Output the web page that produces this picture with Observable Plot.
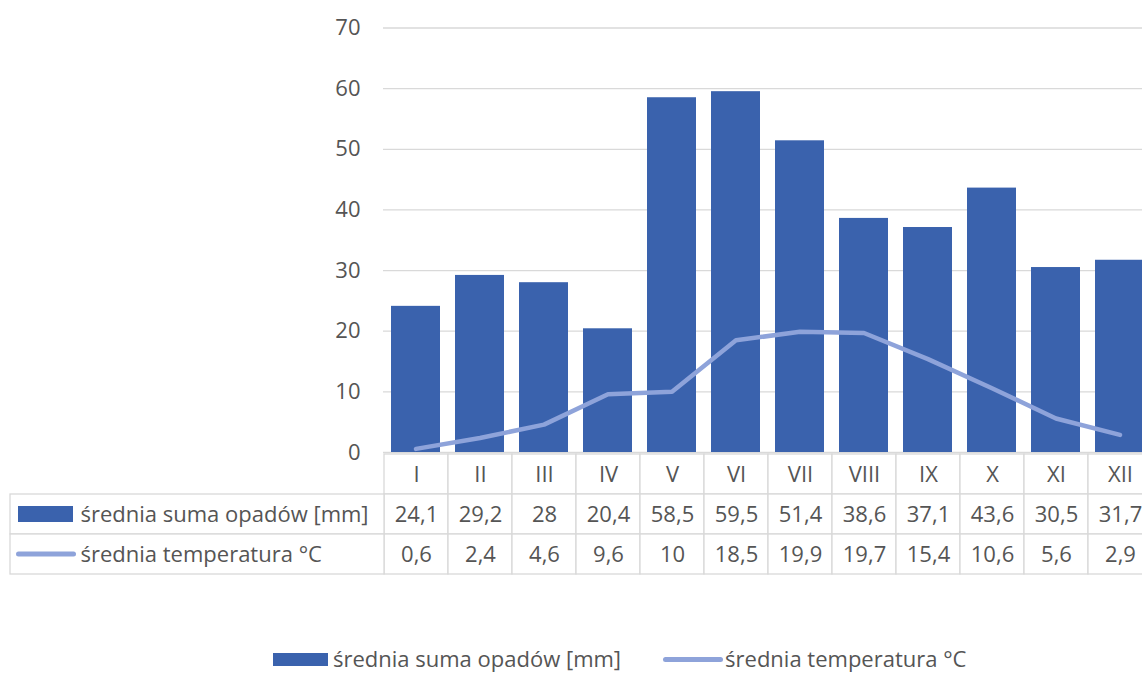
<!DOCTYPE html>
<html>
<head>
<meta charset="utf-8">
<script src="https://cdn.jsdelivr.net/npm/d3@7"></script>
<script src="https://cdn.jsdelivr.net/npm/@observablehq/plot@0.6"></script>
<style>
  html, body { margin: 0; padding: 0; background: #fff; overflow: hidden; }
  #wrap { position: relative; width: 1142px; height: 673px; overflow: hidden; font-family: "Open Sans", sans-serif; color: #555555; }
  .abs { position: absolute; }
  .legend { position: absolute; top: 643px; left: 273px; height: 30px; display: flex; align-items: center; font-size: 22px; line-height: 30px; color: #555555; white-space: nowrap; }
  .legend .txt { display: inline-block; height: 30px; line-height: 30px; }
  .legend .sw-bar { display: inline-block; width: 55px; height: 13px; margin-right: 5px; margin-top: 3px; }
  .legend .sw-line { display: inline-block; width: 60px; height: 5px; border-radius: 2.5px; margin-left: 42px; margin-right: 2px; margin-top: 3px; }
</style>
</head>
<body>
<div id="wrap"></div>
<script>
// ---- data ----
const months = ["I", "II", "III", "IV", "V", "VI", "VII", "VIII", "IX", "X", "XI", "XII"];
const precipitation = [24.1, 29.2, 28, 20.4, 58.5, 59.5, 51.4, 38.6, 37.1, 43.6, 30.5, 31.7];
const temperature = [0.6, 2.4, 4.6, 9.6, 10, 18.5, 19.9, 19.7, 15.4, 10.6, 5.6, 2.9];
const yTicks = [0, 10, 20, 30, 40, 50, 60, 70];
const seriesNames = ["średnia suma opadów [mm]", "średnia temperatura °C"];

// ---- styles ----
const barColor = "#3A62AD";
const lineColor = "#8EA3DA";
const gridColor = "#D9D9D9";
const textColor = "#555555";
const font = "Open Sans, sans-serif";
const fs = 22;

const fmt = v => String(v).replace(".", ",");
const data = months.map((m, i) => ({month: m, precip: precipitation[i], temp: temperature[i]}));

const wrap = document.getElementById("wrap");

// ---- chart ----
const chart = Plot.plot({
  width: 1153,
  height: 455,
  marginLeft: 383,
  marginRight: 0,
  marginTop: 27.5,
  marginBottom: 3,
  style: {fontFamily: font, fontSize: fs + "px", color: textColor, background: "transparent", maxWidth: "none", overflow: "visible"},
  x: {domain: months, paddingInner: 0.23, paddingOuter: 0.115, axis: null},
  y: {domain: [0, 70], axis: null},
  marks: [
    Plot.gridY(yTicks, {stroke: gridColor, strokeOpacity: 1, strokeWidth: 1.3}),
    Plot.axisY(yTicks, {tickSize: 0, tickPadding: 23, fill: textColor, fontSize: fs, label: null}),
    Plot.barY(data, {x: "month", y: "precip", fill: barColor}),
    Plot.line(data, {x: "month", y: "temp", stroke: lineColor, strokeWidth: 4.5, strokeLinejoin: "round", strokeLinecap: "round"})
  ]
});
chart.classList.add("abs");
chart.style.left = "0px";
chart.style.top = "0px";
wrap.appendChild(chart);

// ---- data table (month columns) ----
const rows = ["h", "p", "t"];
const tableCells = [
  ...months.map(m => ({month: m, row: "h", text: m})),
  ...data.map(d => ({month: d.month, row: "p", text: fmt(d.precip)})),
  ...data.map(d => ({month: d.month, row: "t", text: fmt(d.temp)}))
];
const table = Plot.plot({
  width: 770,
  height: 121,
  marginLeft: 0,
  marginRight: 0,
  marginTop: 0.5,
  marginBottom: 0.5,
  style: {fontFamily: font, fontSize: fs + "px", color: textColor, background: "transparent", maxWidth: "none", overflow: "visible"},
  x: {domain: months, padding: 0, axis: null},
  y: {domain: rows, padding: 0, axis: null},
  marks: [
    Plot.cell(tableCells, {x: "month", y: "row", fill: "white", stroke: gridColor, strokeWidth: 1.3}),
    Plot.text(tableCells, {x: "month", y: "row", text: "text", fill: textColor, fontSize: fs, dy: 0})
  ]
});
table.classList.add("abs");
table.style.left = "383px";
table.style.top = "452.5px";
wrap.appendChild(table);

// ---- data table (row headers with series keys) ----
const rowHeaders = [
  {row: "p", label: seriesNames[0]},
  {row: "t", label: seriesNames[1]}
];
const headers = Plot.plot({
  width: 384,
  height: 121,
  marginLeft: 10,
  marginRight: 0,
  marginTop: 0.5,
  marginBottom: 0.5,
  style: {fontFamily: font, fontSize: fs + "px", color: textColor, background: "transparent", maxWidth: "none", overflow: "visible"},
  y: {domain: rows, padding: 0, axis: null},
  marks: [
    Plot.cell(rowHeaders, {y: "row", fill: "white", stroke: gridColor, strokeWidth: 1.3}),
    Plot.cell(rowHeaders.slice(0, 1), {y: "row", fill: barColor, insetLeft: 8, insetRight: 311, insetTop: 12, insetBottom: 12}),
    Plot.cell(rowHeaders.slice(1, 2), {y: "row", fill: lineColor, insetLeft: 6, insetRight: 308, insetTop: 17.5, insetBottom: 17.5, rx: 2.5}),
    Plot.text(rowHeaders, {y: "row", text: "label", frameAnchor: "left", textAnchor: "start", dx: 70, dy: 0, fill: textColor, fontSize: fs})
  ]
});
headers.classList.add("abs");
headers.style.left = "0px";
headers.style.top = "452.5px";
wrap.appendChild(headers);

// ---- legend ----
const legend = document.createElement("div");
legend.className = "legend";
legend.innerHTML =
  `<span class="sw-bar" style="background:${barColor}"></span><span class="txt">${seriesNames[0]}</span>` +
  `<span class="sw-line" style="background:${lineColor}"></span><span class="txt">${seriesNames[1]}</span>`;
wrap.appendChild(legend);
</script>
</body>
</html>
